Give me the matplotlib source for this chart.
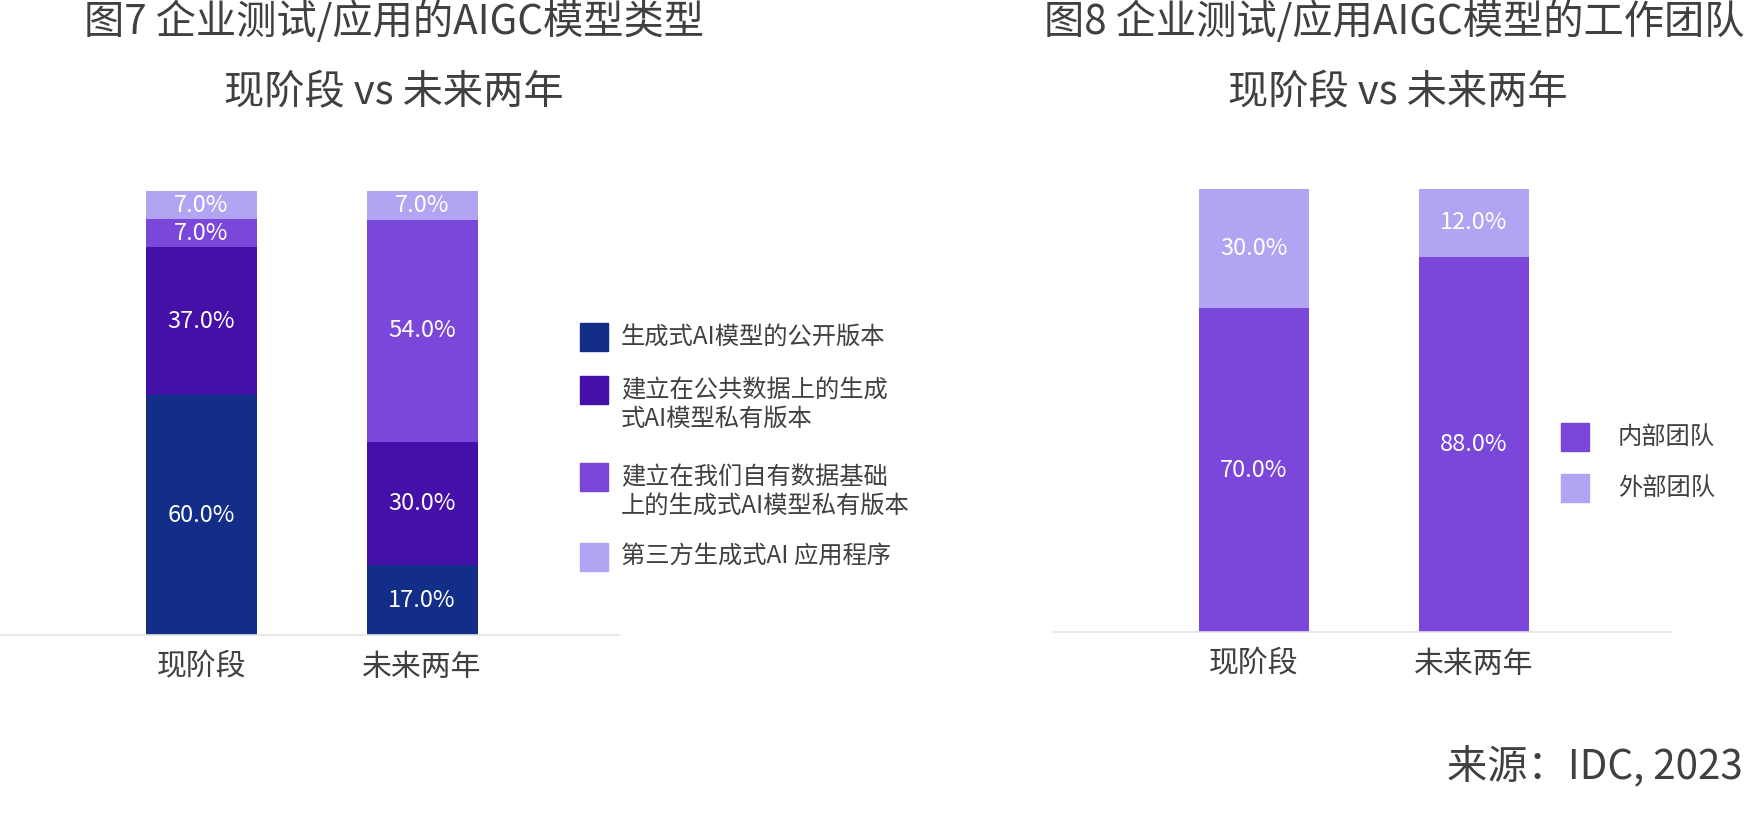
import numpy as np
import matplotlib.pyplot as plt
from matplotlib.patches import Rectangle

plt.rcParams['font.family'] = ['Noto Sans CJK SC', 'DejaVu Sans']

periods = ['现阶段', '未来两年']

model_types = ['生成式AI模型的公开版本',
               '建立在公共数据上的生成\n式AI模型私有版本',
               '建立在我们自有数据基础\n上的生成式AI模型私有版本',
               '第三方生成式AI 应用程序']
model_now = [60, 37, 7, 7]
model_future = [17, 30, 54, 7]
model_colors = ['#122E88', '#4510A8', '#7B47DB', '#B2A4F2']

teams = ['内部团队', '外部团队']
team_now = [70, 30]
team_future = [88, 12]
# segment heights as they are drawn in the source picture (share of bar, %)
team_now_drawn = [73.1, 26.9]
team_future_drawn = [84.7, 15.3]
team_colors = ['#7B47DB', '#B2A4F2']

TXT = '#404040'
W, H = 1750, 823


def fx(px):
    return px / W


def fy(py):
    return 1 - py / H


def stacked(ax, heights, labels, colors, width):
    hts = np.array(heights, dtype=float)
    hts = hts / hts.sum(axis=1, keepdims=True) * 100
    labs = np.array(labels, dtype=float)
    x = np.arange(len(periods))
    bottom = np.zeros(len(periods))
    for j in range(hts.shape[1]):
        ax.bar(x, hts[:, j], width, bottom=bottom, color=colors[j], linewidth=0)
        for i in range(len(x)):
            ax.text(x[i], bottom[i] + hts[i, j] / 2, f'{labs[i, j]:.1f}%',
                    ha='center', va='center', color='white', fontsize=17)
        bottom += hts[:, j]
    ax.set_ylim(0, 100)
    ax.set_xticks(x)
    ax.set_xticklabels(periods, fontsize=21.5, color=TXT)
    ax.set_yticks([])
    for s in ['top', 'left', 'right']:
        ax.spines[s].set_visible(False)
    ax.spines['bottom'].set_color('#E4E4E4')
    ax.spines['bottom'].set_linewidth(1.2)
    ax.tick_params(axis='x', length=0, pad=12)


def legend(fig, labels, colors, x_box, x_text, tops):
    for lab, col, top in zip(labels, colors, tops):
        fig.add_artist(Rectangle((fx(x_box), fy(top + 28)), 28 / W, 28 / H,
                                 transform=fig.transFigure, color=col))
        for k, line in enumerate(lab.split('\n')):
            fig.text(fx(x_text), fy(top + 14 + k * 29), line, ha='left', va='center',
                     fontsize=17.5, color=TXT)


fig = plt.figure(figsize=(17.5, 8.23), dpi=100)

# left chart
ax1 = fig.add_axes([0, fy(635), 619 / W, (635 - 191) / H])
stacked(ax1, [model_now, model_future], [model_now, model_future], model_colors, 111 / 220.5)
ax1.set_xlim(-201.5 / 220.5, (619 - 201.5) / 220.5)
legend(fig, model_types, model_colors, 580, 621, [323, 376, 463, 543])

# right chart
ax2 = fig.add_axes([1054 / W, fy(632), 617 / W, (632 - 189) / H])
stacked(ax2, [team_now_drawn, team_future_drawn], [team_now, team_future],
        team_colors, 110 / 220)
ax2.set_xlim(-200 / 220, 417 / 220)
legend(fig, teams, team_colors, 1561, 1618, [423, 474])

fig.text(fx(394), fy(22), '图7 企业测试/应用的AIGC模型类型', ha='center', va='center',
         fontsize=29, color=TXT)
fig.text(fx(394), fy(93), '现阶段 vs 未来两年', ha='center', va='center',
         fontsize=29, color=TXT)
fig.text(fx(1394), fy(22), '图8 企业测试/应用AIGC模型的工作团队', ha='center', va='center',
         fontsize=29, color=TXT)
fig.text(fx(1398), fy(93), '现阶段 vs 未来两年', ha='center', va='center',
         fontsize=29, color=TXT)
fig.text(fx(1743), fy(766), '来源：IDC, 2023', ha='right', va='center',
         fontsize=29, color=TXT)

fig.savefig('out.png', dpi=100)
